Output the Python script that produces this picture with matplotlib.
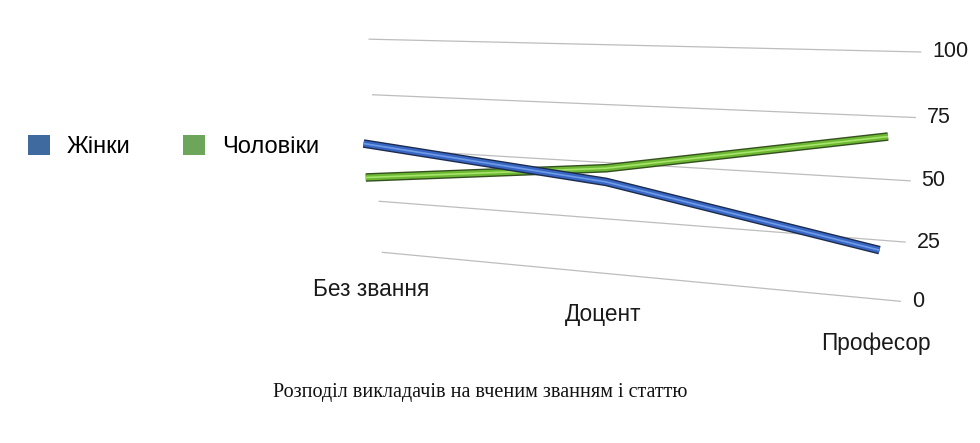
import numpy as np
import matplotlib
matplotlib.use("Agg")
import matplotlib.pyplot as plt
import matplotlib.transforms as mtransforms
from matplotlib.patches import Patch

# --- data ---
categories = ["Без звання", "Доцент", "Професор"]
women = [58, 47, 26]    # Жінки
men = [42, 53, 72]      # Чоловіки
y_ticks = [0, 25, 50, 75, 100]
series_names = ["Жінки", "Чоловіки"]
title = "Розподіл викладачів на вченим званням і статтю"

# --- layout of the fake 3D view (pixel units, y pointing down) ---
# ends of the gridlines on the back wall, for the values in y_ticks
WALL_LEFT = [(383, 252.3), (379, 201.7), (375, 148.0), (372.6, 95.0), (369.6, 39.3)]
WALL_RIGHT = [(900, 301.7), (905, 241.7), (911, 180.7), (915, 117.3), (920.6, 52.3)]
CAT_U = [-0.025, 0.472, 0.958]   # where the categories sit along the wall
LABEL_U = [-0.03, 0.465, 0.965]  # category label centres
SERIES_SHIFT = 12.5               # series ribbon sits a bit in front of the wall

SANS = ["Liberation Sans", "DejaVu Sans"]
SERIF = ["Liberation Serif", "DejaVu Serif"]


class Perspective(mtransforms.Transform):
    """(u, value) -> pixel via a projective map."""
    input_dims = output_dims = 2

    def __init__(self, H):
        super().__init__()
        self.H = H

    def transform_non_affine(self, xy):
        xy = np.asarray(xy, dtype=float)
        p = np.column_stack([xy, np.ones(len(xy))]) @ self.H.T
        return p[:, :2] / p[:, 2:3]


def fit_homography(src, dst):
    rows = []
    for (u, v), (x, y) in zip(src, dst):
        rows.append([u, v, 1, 0, 0, 0, -x * u, -x * v, -x])
        rows.append([0, 0, 0, u, v, 1, -y * u, -y * v, -y])
    _, _, vt = np.linalg.svd(np.array(rows))
    H = vt[-1].reshape(3, 3)
    return H / H[2, 2]


src = [(0, t) for t in y_ticks] + [(1, t) for t in y_ticks]
H = fit_homography(src, WALL_LEFT + WALL_RIGHT)

fig = plt.figure(figsize=(9.8, 4.43), dpi=100)
ax = fig.add_axes([0, 0, 1, 1])
ax.set_xlim(0, 980)
ax.set_ylim(443, 0)
ax.axis("off")

wall = Perspective(H) + ax.transData
front = Perspective(H) + mtransforms.Affine2D().translate(0, SERIES_SHIFT) + ax.transData

# gridlines + value labels
for t in y_ticks:
    ax.plot([0, 1], [t, t], color="#bdbdbd", lw=0.9, transform=wall, zorder=1)
    ax.annotate(str(t), xy=(1, t), xycoords=wall, xytext=(11.5, 0),
                textcoords="offset pixels", ha="left", va="center",
                fontsize=15.5, family=SANS, color="#1a1a1a")

# category labels under the floor
for u, name in zip(LABEL_U, categories):
    ax.text(u, -19.5, name, transform=wall, ha="center", va="center",
            fontsize=16.3, family=SANS, color="#1a1a1a")

# ribbons: dark edge, body, highlight
styles = [
    (men, "#34501f", "#6cb832", "#a6e46a"),
    (women, "#1d2c4e", "#3766c4", "#6f9be6"),
]
for vals, dark, body, light in styles:
    ax.plot(CAT_U, vals, color=dark, lw=6.2, transform=front,
            solid_capstyle="butt", solid_joinstyle="round", zorder=3)
    ax.plot(CAT_U, vals, color=body, lw=4.2, transform=front,
            solid_capstyle="butt", solid_joinstyle="round", zorder=3)
    ax.plot(CAT_U, vals, color=light, lw=1.2, transform=front,
            solid_capstyle="butt", solid_joinstyle="round", zorder=3)

# legend
handles = [Patch(facecolor="#3e6aa0", edgecolor="none"),
           Patch(facecolor="#6da55a", edgecolor="none")]
fig.legend(handles, series_names, loc="center left", bbox_to_anchor=(0.0286, 0.670),
           frameon=False, ncol=2, borderpad=0, borderaxespad=0,
           handlelength=0.93, handleheight=0.93, handletextpad=0.72,
           columnspacing=2.2, prop={"family": SANS, "size": 17})

ax.text(480, 392, title, ha="center", va="center", fontsize=14.5,
        family=SERIF, color="#111111")

fig.savefig("out.png", dpi=100)
